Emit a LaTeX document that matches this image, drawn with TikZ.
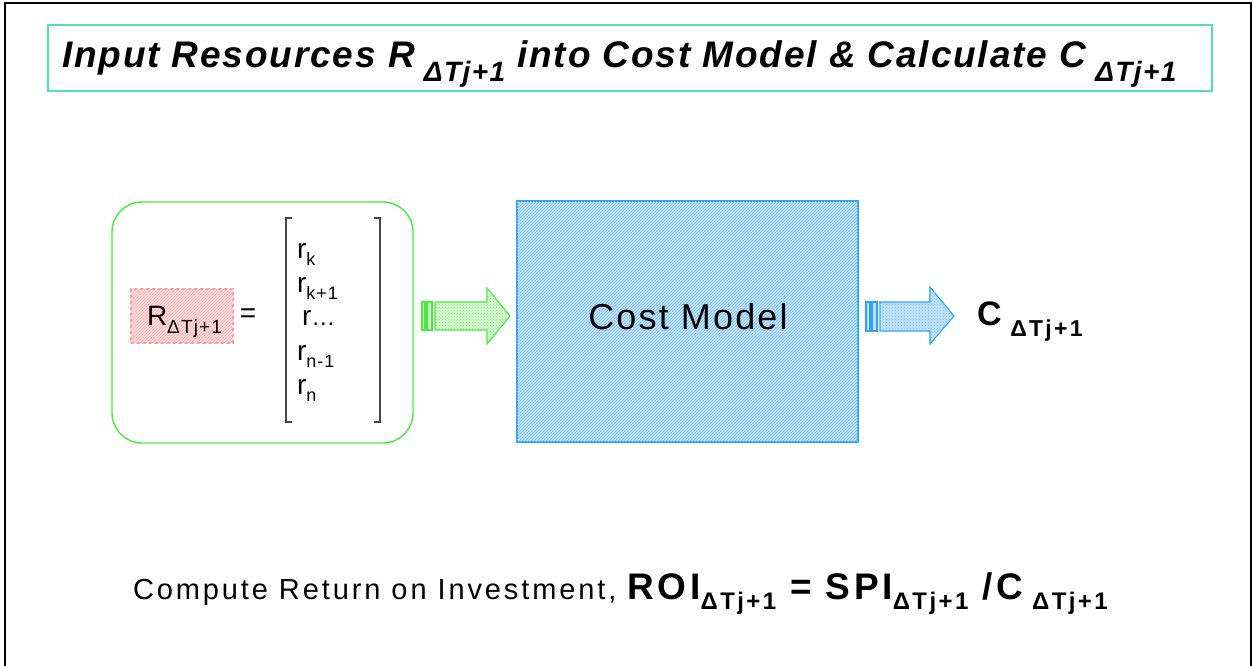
\documentclass[tikz,border=0pt]{standalone}
\usepackage{fontspec}
\setmainfont{Liberation Sans}
\newfontfamily\trk[LetterSpace=6]{Liberation Sans}
\newfontfamily\trkb[LetterSpace=10]{Liberation Sans}
\newfontfamily\trkt[LetterSpace=5]{Liberation Sans}
\usetikzlibrary{patterns}
\definecolor{titleteal}{RGB}{85,222,190}
\definecolor{boxgreen}{RGB}{70,235,60}
\definecolor{pinkline}{RGB}{255,150,150}
\definecolor{pinkfill}{RGB}{255,218,218}
\definecolor{blueline}{RGB}{45,165,240}
\definecolor{bluefill}{RGB}{190,225,248}
\definecolor{bluehatch}{RGB}{130,195,240}
\definecolor{greenfill}{RGB}{215,248,210}
\definecolor{brk}{RGB}{70,70,70}
\newcommand\lsub[3]{\raisebox{-#2}{\fontsize{#1}{#1}\selectfont #3}}
\newcommand\fs[1]{\fontsize{#1}{#1}\selectfont}
\begin{document}
\begin{tikzpicture}[x=1pt,y=-1pt,
  txt/.style={inner sep=0pt,outer sep=0pt},
  frameline/.style={line width=2pt,black},
  bracketline/.style={line width=1.4pt,brk},
  greenarrow/.style={draw=boxgreen,line width=1.1pt,fill=greenfill},
  bluearrow/.style={draw=blueline,line width=1.1pt,fill=bluefill}]
\useasboundingbox (0,0) rectangle (1253,666);
% outer frame
\draw[frameline] (5,670) -- (5,3) -- (1251,3) -- (1251,670);
% title
\node[draw=titleteal,line width=1.6pt,minimum width=1164pt,minimum height=66pt,inner sep=0pt] (title) at (630,58) {};
\node[txt,anchor=base west] (titletext) at (62,68) {\trkt\fs{37}\bfseries\itshape Input Resources R\lsub{28}{14pt}{ ΔTj+1} into Cost Model \& Calculate C\lsub{28}{14pt}{ ΔTj+1}};
% left green box
\node[draw=boxgreen,line width=1.4pt,rounded corners=30pt,minimum width=301pt,minimum height=241pt] (inbox) at (262.5,322.5) {};
% pink R box
\node[draw=pinkline,dashed,line width=1.2pt,fill=pinkfill,minimum width=102pt,minimum height=54pt] (rbox) at (182,316) {};
\fill[pattern=north east lines,pattern color=pinkline!70] (rbox.south west) rectangle (rbox.north east);
\node[txt,anchor=base west] (rlabel) at (147,325) {\trk\fs{28}R\lsub{19}{8pt}{ΔTj+1}};
\node[txt] (eq) at (248,316) {\fs{28}=};
% bracket
\draw[bracketline] (292,218) -- (286,218) -- (286,422) -- (292,422);
\draw[bracketline] (374,218) -- (380,218) -- (380,422) -- (374,422);
\node[txt,anchor=base west] (r1) at (297,258) {\trk\fs{28}r\lsub{18}{7pt}{k}};
\node[txt,anchor=base west] (r2) at (297,292) {\trk\fs{28}r\lsub{18}{7pt}{k+1}};
\node[txt,anchor=base west] (r3) at (302,325) {\trk\fs{28}r\fs{24}…};
\node[txt,anchor=base west] (r4) at (297,360) {\trk\fs{28}r\lsub{18}{7pt}{n-1}};
\node[txt,anchor=base west] (r5) at (297,394) {\trk\fs{28}r\lsub{18}{7pt}{n}};
% green arrow
\filldraw[greenarrow] (422,302) rectangle (425,330);
\filldraw[greenarrow] (427,302) rectangle (432,330);
\filldraw[greenarrow] (435,302) -- (487,302) -- (487,288) -- (510,316) -- (487,344) -- (487,330) -- (435,330) -- cycle;
\fill[pattern=crosshatch dots,pattern color=boxgreen!70] (435,302) -- (487,302) -- (487,288) -- (510,316) -- (487,344) -- (487,330) -- (435,330) -- cycle;
% cost model
\node[draw=blueline,line width=1.2pt,fill=bluefill,minimum width=341pt,minimum height=241pt] (cost) at (687.5,321.5) {};
\fill[pattern=north east lines,pattern color=bluehatch] (cost.south west) rectangle (cost.north east);
\draw[blueline,line width=1.2pt] (cost.south west) rectangle (cost.north east);
\node[txt,anchor=base] (costtext) at (688,329) {\trk\fs{36}Cost Model};
% blue arrow
\filldraw[bluearrow] (866,302) rectangle (870,331);
\filldraw[bluearrow] (872,302) rectangle (877,331);
\filldraw[bluearrow] (880,302) -- (930,302) -- (930,287) -- (954,316) -- (930,344) -- (930,331) -- (880,331) -- cycle;
\fill[pattern=crosshatch dots,pattern color=bluehatch] (880,302) -- (930,302) -- (930,287) -- (954,316) -- (930,344) -- (930,331) -- (880,331) -- cycle;
% output
\node[txt,anchor=base west] (cout) at (977,325) {\trkb\fs{34}\bfseries C\lsub{23}{11pt}{ ΔTj+1}};
% bottom
\node[txt,anchor=base west] (roi) at (133,599) {\trkb\fs{29}Compute Return on Investment, {\bfseries\fs{37}ROI\lsub{24}{10pt}{ΔTj+1} = SPI\lsub{24}{10pt}{ΔTj+1} /C\lsub{24}{10pt}{ ΔTj+1}}};
\end{tikzpicture}
\end{document}
